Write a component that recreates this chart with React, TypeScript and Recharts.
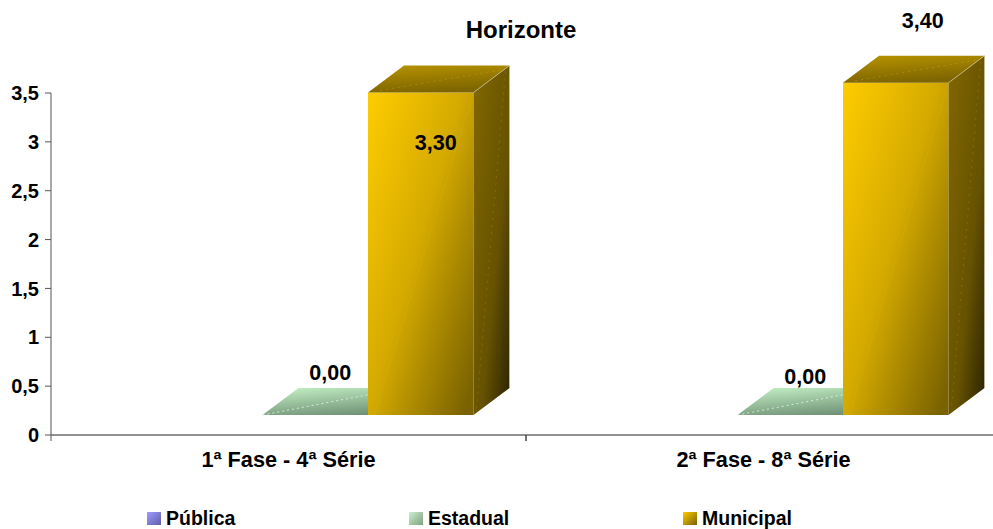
import React from "react";
import { BarChart, Bar, XAxis, YAxis, Legend, LabelList } from "recharts";

const categories = ["1ª Fase - 4ª Série", "2ª Fase - 8ª Série"];
const publica = [null, null];
const estadual = [0, 0];
const municipal = [3.3, 3.4];
const yTicks = [0, 0.5, 1, 1.5, 2, 2.5, 3, 3.5];
const seriesNames = ["Pública", "Estadual", "Municipal"];

const rows = categories.map((name, i) => ({
  name,
  publica: publica[i],
  estadual: estadual[i],
  municipal: municipal[i],
}));

const FONT = "'Liberation Sans', Arial, sans-serif";
const CHART_W = 1001;
const CHART_H = 529;
const LEFT = 51;
const BAND = (CHART_W - LEFT) / 2;

// the fake 3D: front face sits up and right of the axis, depth goes back from there
const SHIFT_X = 27;
const SHIFT_Y = -20;
const DEPTH_X = 36;
const DEPTH_Y = -27;

const pts = (list: number[][]) => list.map((p) => p.join(",")).join(" ");

const makeBox = (front: string, top: string, side: string) => (props: any) => {
  const { x, y, width, height, value } = props;
  const v = Array.isArray(value) ? value[1] : value;
  if (v === null || v === undefined) return <g />;
  const l = x + SHIFT_X;
  const r = l + width;
  const t = y + SHIFT_Y;
  const b = t + height;
  return (
    <g>
      {height > 0 && <rect x={l} y={t} width={width} height={height} fill={`url(#${front})`} />}
      {height > 0 && (
        <polygon
          points={pts([[r, t], [r + DEPTH_X, t + DEPTH_Y], [r + DEPTH_X, b + DEPTH_Y], [r, b]])}
          fill={`url(#${side})`}
        />
      )}
      <polygon
        points={pts([[l, t], [l + DEPTH_X, t + DEPTH_Y], [r + DEPTH_X, t + DEPTH_Y], [r, t]])}
        fill={`url(#${top})`}
      />
      {height > 0 && (
        <>
          <line x1={l + width * 0.06} y1={b} x2={r} y2={t} stroke="#e6c020" strokeOpacity={0.2} />
          <polyline
            points={pts([[r, t], [r + DEPTH_X, t + DEPTH_Y], [r + DEPTH_X, b + DEPTH_Y]])}
            fill="none"
            stroke="#c8c0a0"
            strokeOpacity={0.7}
          />
          <line
            x1={l + 12}
            y1={t - 2}
            x2={r + DEPTH_X - 6}
            y2={t + DEPTH_Y + 4}
            stroke="#d8b020"
            strokeOpacity={0.35}
            strokeDasharray="2 4"
          />
          <line
            x1={r + DEPTH_X - 4}
            y1={t + DEPTH_Y + 6}
            x2={r + 3}
            y2={b - 6}
            stroke="#c8a020"
            strokeOpacity={0.3}
            strokeDasharray="2 5"
          />
        </>
      )}
      {height === 0 && (
        <line
          x1={l}
          y1={t}
          x2={r}
          y2={t + DEPTH_Y * 0.75}
          stroke="#e4f6e4"
          strokeOpacity={0.8}
          strokeDasharray="2 3"
        />
      )}
    </g>
  );
};

const MunicipalBox = makeBox("munFront", "munTop", "munSide");
const EstadualBox = makeBox("estFront", "estTop", "estSide");

const fmt = (v: number) => v.toFixed(2).replace(".", ",");

// the data labels in the original were dragged around by hand
const estadualLabelPos = [
  [15, -42],
  [15, -38],
];
const municipalLabelPos = [
  [15, 50],
  [27, -62],
];

const makeLabel = (pos: number[][]) => (props: any) => {
  const { x, y, width, value, index } = props;
  if (value === null || value === undefined) return null;
  const [dx, dy] = pos[index];
  return (
    <text
      x={x + SHIFT_X + width / 2 + dx}
      y={y + SHIFT_Y + dy}
      textAnchor="middle"
      dominantBaseline="central"
      fontFamily={FONT}
      fontWeight="bold"
      fontSize={21.5}
      fill="#000"
    >
      {fmt(Number(value))}
    </text>
  );
};

const CategoryTick = (props: any) => {
  const { x, y, payload } = props;
  return (
    <g>
      <line x1={x - BAND / 2} y1={435} x2={x - BAND / 2} y2={441} stroke="#555" />
      <line x1={x + BAND / 2} y1={435} x2={x + BAND / 2} y2={441} stroke="#222" />
      <text
        x={x}
        y={y + 16}
        dominantBaseline="central"
        textAnchor="middle"
        fontFamily={FONT}
        fontWeight="bold"
        fontSize={21.7}
        fill="#000"
      >
        {payload.value}
      </text>
    </g>
  );
};

const legendX = [147, 409, 683];
const legendBg = [
  "linear-gradient(135deg, #9d9dff, #5f5fa8)",
  "linear-gradient(135deg, #ceeccf, #7da382)",
  "linear-gradient(135deg, #ffcc00, #7a6200)",
];

const LegendBox = () => (
  <div style={{ position: "relative", width: 993, height: 24 }}>
    {seriesNames.map((n, i) => (
      <div key={n} style={{ position: "absolute", left: legendX[i], top: 0, display: "flex", alignItems: "center" }}>
        <span style={{ display: "inline-block", width: 14, height: 13, background: legendBg[i], marginRight: 5 }} />
        <span style={{ fontFamily: FONT, fontWeight: "bold", fontSize: 19.5, color: "#000", lineHeight: "24px" }}>{n}</span>
      </div>
    ))}
  </div>
);

const App: React.FC = () => {
  return (
    <div style={{ position: "absolute", left: 0, top: 0, width: 993, height: 529, overflow: "hidden", background: "#fff" }}>
      <BarChart
        width={CHART_W}
        height={CHART_H}
        data={rows}
        barSize={105.5}
        barGap={0}
        margin={{ top: 93, right: 0, bottom: 64, left: 0 }}
      >
        <defs>
          <linearGradient id="munFront" x1="0" y1="0" x2="1" y2="0.9">
            <stop offset="0" stopColor="#ffcc00" />
            <stop offset="0.5" stopColor="#d4aa00" />
            <stop offset="1" stopColor="#7a6200" />
          </linearGradient>
          <linearGradient id="munTop" x1="0" y1="0" x2="0.3" y2="1">
            <stop offset="0" stopColor="#b89400" />
            <stop offset="1" stopColor="#7e6500" />
          </linearGradient>
          <linearGradient id="munSide" x1="0" y1="0" x2="1" y2="1">
            <stop offset="0" stopColor="#826800" />
            <stop offset="0.6" stopColor="#665200" />
            <stop offset="1" stopColor="#2a2200" />
          </linearGradient>
          <linearGradient id="estTop" x1="0.3" y1="0" x2="0.7" y2="1">
            <stop offset="0" stopColor="#bdeabf" />
            <stop offset="1" stopColor="#6f9075" />
          </linearGradient>
          <linearGradient id="estFront" x1="0" y1="0" x2="1" y2="0.9">
            <stop offset="0" stopColor="#ccffcc" />
            <stop offset="1" stopColor="#668066" />
          </linearGradient>
          <linearGradient id="estSide" x1="0" y1="0" x2="1" y2="1">
            <stop offset="0" stopColor="#7a9a7a" />
            <stop offset="1" stopColor="#2a3a2a" />
          </linearGradient>
        </defs>
        <text x={521} y={29} textAnchor="middle" dominantBaseline="central" fontFamily={FONT} fontWeight="bold" fontSize={24} fill="#000">
          Horizonte
        </text>
        <XAxis
          dataKey="name"
          height={30}
          stroke="#222"
          tickLine={false}
          interval={0}
          tick={<CategoryTick />}
        />
        <YAxis
          width={LEFT}
          domain={[0, 3.5]}
          ticks={yTicks}
          interval={0}
          stroke="#555"
          tickSize={6}
          tickMargin={6}
          tick={{ fontFamily: FONT, fontWeight: "bold", fontSize: 20, fill: "#000" }}
          tickFormatter={(v: number) => String(v).replace(".", ",")}
        />
        <Legend
          layout="horizontal"
          verticalAlign="middle"
          align="center"
          content={<LegendBox />}
          wrapperStyle={{ left: 0, top: 506, width: 993, height: 24, transform: "none" }}
        />
        <Bar dataKey="publica" name="Pública" fill="#8080e0" isAnimationActive={false} />
        <Bar dataKey="estadual" name="Estadual" fill="#a0d8a0" shape={EstadualBox} isAnimationActive={false}>
          <LabelList dataKey="estadual" content={makeLabel(estadualLabelPos)} />
        </Bar>
        <Bar dataKey="municipal" name="Municipal" fill="#ffcc00" shape={MunicipalBox} isAnimationActive={false}>
          <LabelList dataKey="municipal" content={makeLabel(municipalLabelPos)} />
        </Bar>
      </BarChart>
    </div>
  );
};

export default App;
